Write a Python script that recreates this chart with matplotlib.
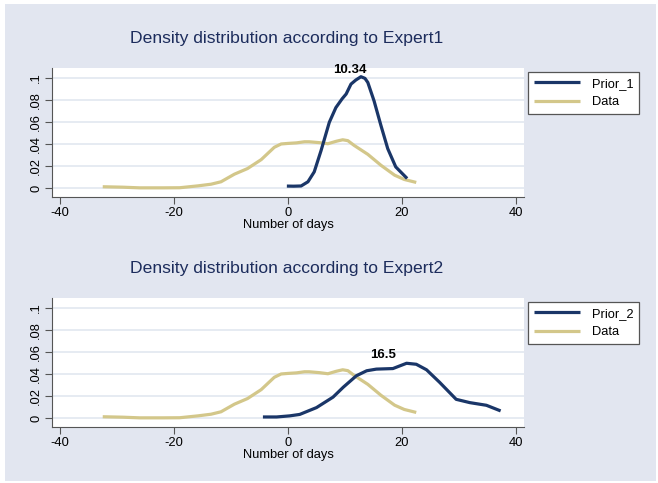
import matplotlib
matplotlib.use("Agg")
import matplotlib.pyplot as plt
from matplotlib.patches import Rectangle

plt.rcParams["font.family"] = ["Liberation Sans", "DejaVu Sans"]
plt.rcParams["axes.unicode_minus"] = False

# Observed data density (same in both panels)
data_x = [-32.5, -29.0, -26.0, -22.0, -19.0, -15.8, -13.5, -11.75, -9.4, -7.1, -4.7,
          -2.4, -1.2, 0.0, 1.5, 2.9, 3.7, 5.5, 7.0, 8.5, 9.6, 10.5, 11.6, 14.0, 16.3,
          18.7, 20.4, 22.5]
data_y = [0.0012, 0.0008, 0.0002, 0.0002, 0.0003, 0.0020, 0.0035, 0.0057, 0.0126,
          0.0177, 0.0258, 0.0370, 0.0400, 0.0405, 0.0410, 0.0420, 0.0420, 0.0412,
          0.0402, 0.0425, 0.0438, 0.0430, 0.0387, 0.0306, 0.0207, 0.0117, 0.0078,
          0.0051]

# Expert 1 prior density
prior1_x = [-0.2, 1.0, 2.3, 3.5, 4.6, 5.8, 7.25, 8.4, 9.5, 10.2, 11.05, 11.9, 12.8,
            13.5, 14.0, 15.1, 16.3, 17.5, 18.9, 20.9]
prior1_y = [0.0018, 0.0017, 0.0019, 0.0057, 0.0147, 0.0340, 0.0597, 0.0730, 0.0810,
            0.0853, 0.0943, 0.0980, 0.1010, 0.0995, 0.0958, 0.0790, 0.0568, 0.0357,
            0.0192, 0.0087]

# Expert 2 prior density
prior2_x = [-4.4, -2.0, 0.3, 2.05, 5.0, 7.9, 9.7, 12.0, 13.8, 15.5, 18.4, 20.8,
            22.5, 24.3, 26.6, 29.5, 31.9, 34.8, 37.3]
prior2_y = [0.0010, 0.0010, 0.0020, 0.0033, 0.0095, 0.0190, 0.0280, 0.0384, 0.0429,
            0.0444, 0.0449, 0.0497, 0.0488, 0.0438, 0.0324, 0.0170, 0.0140, 0.0116,
            0.0065]

titles = ["Density distribution according to Expert1",
          "Density distribution according to Expert2"]
prior_labels = ["Prior_1", "Prior_2"]
peak_labels = ["10.34", "16.5"]
peak_pos = [(10.9, 0.1015), (16.7, 0.0515)]

x_ticks = [-40, -20, 0, 20, 40]
y_ticks = [0, 0.02, 0.04, 0.06, 0.08, 0.1]
y_ticklabels = ["0", ".02", ".04", ".06", ".08", ".1"]

NAVY = "#1a3668"
KHAKI = "#d3c78a"
BG = "#e2e6f0"
GRID = "#e2e7f0"
TXT = "#1c2c5c"

W, H = 658, 483
fig = plt.figure(figsize=(W / 100, H / 100), dpi=100)
fig.patch.set_facecolor("white")
fig.add_artist(Rectangle((5 / W, 2 / H), 651 / W, 477 / H, transform=fig.transFigure,
                         facecolor=BG, edgecolor="none", zorder=-10))

panels = [
    dict(top=68, bottom=197, leg_top=72, title_y=38),
    dict(top=298, bottom=427, leg_top=302, title_y=268),
]
series = [(prior1_x, prior1_y), (prior2_x, prior2_y)]

for i, p in enumerate(panels):
    left, right = 52, 524
    ax = fig.add_axes([left / W, 1 - p["bottom"] / H, (right - left) / W,
                       (p["bottom"] - p["top"]) / H])
    ax.set_facecolor("white")
    ax.set_xlim(-41.4, 41.4)
    ax.set_ylim(-0.0081, 0.1089)
    for y in y_ticks:
        ax.axhline(y, color=GRID, lw=1.2, zorder=0)
    px, py = series[i]
    ax.plot(px, py, color=NAVY, lw=2.3, label=prior_labels[i], solid_capstyle="butt",
            solid_joinstyle="round", zorder=3)
    ax.plot(data_x, data_y, color=KHAKI, lw=2.3, label="Data", solid_capstyle="butt",
            solid_joinstyle="round", zorder=2)
    ax.text(peak_pos[i][0], peak_pos[i][1], peak_labels[i], ha="center", va="bottom",
            fontsize=9.5, fontweight="bold", color="black")

    ax.set_xticks(x_ticks)
    ax.set_yticks(y_ticks)
    ax.set_yticklabels(y_ticklabels, rotation=90, va="center")
    ax.tick_params(axis="both", labelsize=9.3, color="#555555", length=5, width=0.8,
                   labelcolor="black", pad=2)
    for s in ["top", "right"]:
        ax.spines[s].set_visible(False)
    for s in ["left", "bottom"]:
        ax.spines[s].set_color("#555555")
        ax.spines[s].set_linewidth(0.8)
    ax.set_xlabel("Number of days", fontsize=9.3, labelpad=0)

    fig.text(287 / W, 1 - p["title_y"] / H, titles[i], ha="center", va="center",
             fontsize=12.6, color=TXT)

    leg = ax.legend(loc="upper left", bbox_to_anchor=(528 / W, 1 - p["leg_top"] / H),
                    bbox_transform=fig.transFigure, fontsize=9.3, frameon=True,
                    fancybox=False, edgecolor="#555555", framealpha=1,
                    borderaxespad=0, handlelength=3.6, handletextpad=0.9,
                    labelspacing=0.5, borderpad=0.45)
    leg.get_frame().set_linewidth(0.9)

fig.savefig("out.png", dpi=100, facecolor=fig.get_facecolor())
